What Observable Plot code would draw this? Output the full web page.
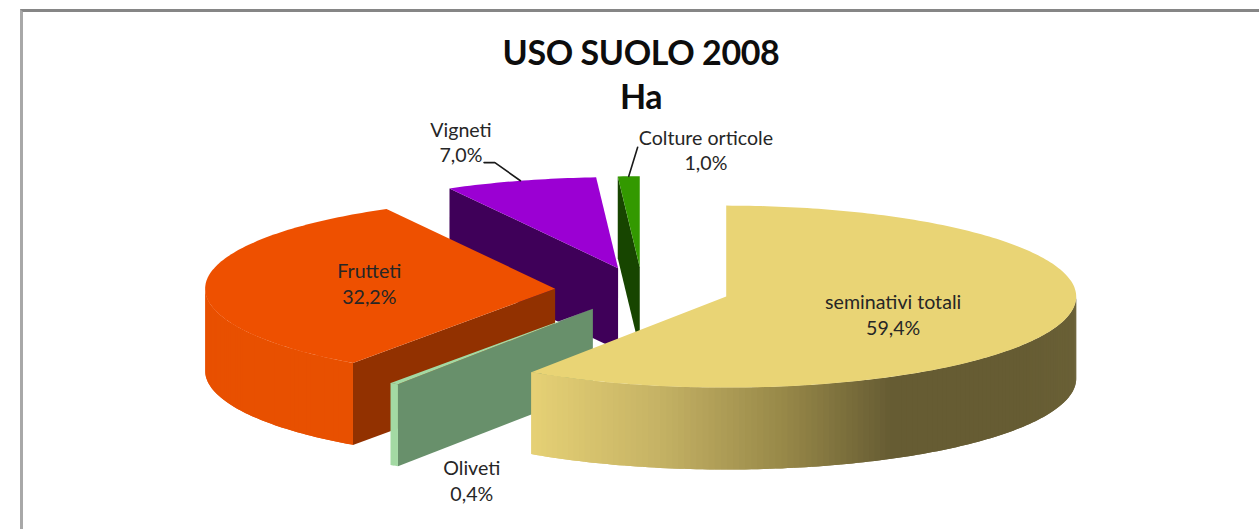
<!DOCTYPE html>
<html lang="it">
<head>
<meta charset="utf-8">
<script src="https://cdn.jsdelivr.net/npm/d3@7"></script>
<script src="https://cdn.jsdelivr.net/npm/@observablehq/plot@0.6"></script>
<style>
  html, body { margin: 0; padding: 0; background: #fff; overflow: hidden; }
  #frame { position: absolute; left: 20px; top: 9px; width: 1239px; height: 520px; box-sizing: border-box;
           border-top: 3px solid #868686; border-left: 3px solid #a8a8a8; }
  #title { position: absolute; left: 0; top: 18px; width: 1236px; text-align: center; margin: 0;
           font: 700 34px/44px Lato, sans-serif; color: #0d0d0d; letter-spacing: -0.4px; }
  #chart { position: absolute; left: 0; top: 106px; }
  #chart svg { display: block; }
</style>
</head>
<body>
<div id="frame">
  <h1 id="title">USO SUOLO 2008<br>Ha</h1>
  <div id="chart"></div>
</div>
<script>
// ---- data ----
const categories = ["seminativi totali", "Oliveti", "Frutteti", "Vigneti", "Colture orticole"];
const shares = [59.4, 0.4, 32.2, 7.0, 1.0];
const shareLabels = ["59,4%", "0,4%", "32,2%", "7,0%", "1,0%"];

// ---- styling and layout, kept apart from the data ----
const topColors = ["#e9d475", "#a3d9a3", "#ee5000", "#9b00d3", "#339900"];
const faceColors = ["#e9d475", "#68906b", "#923100", "#3f0059", "#174500"];
const sideColors = [null, "#a3d9a3", "#e85000", "#3f0059", "#174500"];
const goldStops = ["#e6d175", "#c6b365", "#958647", "#665c33", "#665c33", "#6a6036"];
const depth = 0.9;         // wall height, in units of the vertical radius
const explode = 0.25;      // Excel's 25% explosion
const labelOffsetX = [0.477, -0.346, -0.531, -0.449, 0.189];  // label centre from slice apex
const labelOffsetY = [0.187, 1.88, -0.066, -1.394, -1.297];
const width = 1236, height = 411, rx = 350, ry = 91, cx = 619, cy = 171.5;

// ---- pie geometry, derived from the shares (unit radius, clockwise from the top) ----
const total = d3.sum(shares);
const cumulative = d3.cumsum(shares);
const slices = categories.map((name, i) => {
  const a0 = ((cumulative[i] - shares[i]) / total) * 2 * Math.PI;
  const a1 = (cumulative[i] / total) * 2 * Math.PI;
  const mid = (a0 + a1) / 2;
  return { name, i, a0, a1, mid, ax: explode * Math.sin(mid), ay: -explode * Math.cos(mid) };
});
const rim = (s, a) => [s.ax + Math.sin(a), s.ay - Math.cos(a)];
const steps = (a, b, n) => d3.range(n + 1).map(k => a + (b - a) * k / n);

const polys = [];
let pid = 0;
function addPoly(points, color) {
  const id = pid++;
  points.forEach(([x, y]) => polys.push({ x, y, id, color }));
}
function drawSlice(s) {
  const apex = [s.ax, s.ay];
  const drop = ([x, y]) => [x, y + depth];
  // the radial wall at the start angle faces the viewer for every slice drawn here
  if (s.i !== 0) {
    const startRim = rim(s, s.a0);
    addPoly([apex, startRim, drop(startRim), drop(apex)], faceColors[s.i]);
  }
  // curved outer wall: only its front half is visible
  const from = Math.max(s.a0, Math.PI / 2), to = Math.min(s.a1, 1.5 * Math.PI);
  if (to > from) {
    const n = Math.max(1, Math.ceil((to - from) / (Math.PI / 180)));
    const as = steps(from, to, n);
    const gold = d3.scaleLinear().domain([-0.56, -0.2, 0.18, 0.47, 0.85, 1]).range(goldStops);
    // each strip reaches one step further than it needs to, so the next covers the seam
    as.slice(0, -1).forEach((a, k) => {
      const next = as[Math.min(k + 2, n)];
      const mid = as[k + 1];
      const col = s.i === 0 ? gold(Math.sin((a + mid) / 2)) : sideColors[s.i];
      const arc = [rim(s, a), rim(s, mid), rim(s, next)];
      addPoly([...arc, ...arc.slice().reverse().map(drop)], col);
    });
  }
  // top surface
  addPoly([apex, ...steps(s.a0, s.a1, Math.max(2, Math.ceil((s.a1 - s.a0) * 60))).map(a => rim(s, a))], topColors[s.i]);
}
// Painter's order as in the reference: back slices first
[3, 4, 2, 1, 0].forEach(i => drawSlice(slices[i]));

// ---- labels and leader lines ----
const labels = slices.map(s => ({
  x: s.ax + labelOffsetX[s.i],
  y: s.ay + labelOffsetY[s.i],
  text: `${s.name}\n${shareLabels[s.i]}`
}));
const leaders = [];
[slices[3], slices[4]].forEach(s => {
  const end = rim(s, s.mid);
  const lab = labels[s.i];
  const pts = s.i === 3
    ? [end, [lab.x + 0.097, lab.y + 0.234], [lab.x + 0.066, lab.y + 0.234]]
    : [end, [lab.x - 0.195, lab.y - 0.022]];
  pts.forEach(([x, y]) => leaders.push({ x, y, id: s.i }));
});

const chart = Plot.plot({
  width, height,
  margin: 0,
  style: { background: "#fff", fontFamily: "Lato, sans-serif" },
  x: { domain: [-cx / rx, (width - cx) / rx], range: [0, width], axis: null },
  y: { domain: [-cy / ry, (height - cy) / ry], range: [0, height], axis: null },
  color: { type: "identity" },
  marks: [
    Plot.line(polys, { x: "x", y: "y", z: "id", fill: "color", stroke: "none" }),
    Plot.line(leaders, { x: "x", y: "y", z: "id", stroke: "#1a1a1a", strokeWidth: 1.6 }),
    Plot.text(labels, { x: "x", y: "y", text: "text", fontSize: 19.6, lineHeight: 1.3, fill: "#262626", lineAnchor: "middle" })
  ]
});
document.getElementById("chart").appendChild(chart);
</script>
</body>
</html>
